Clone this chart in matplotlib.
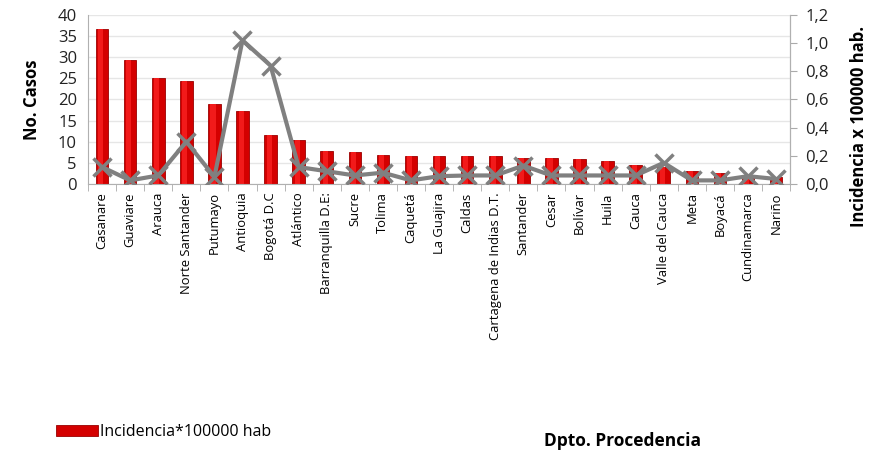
import numpy as np
import matplotlib
matplotlib.use('Agg')
import matplotlib.pyplot as plt

plt.rcParams['font.family'] = ['Open Sans', 'DejaVu Sans']

# Data
departamentos = ['Casanare', 'Guaviare', 'Arauca', 'Norte Santander', 'Putumayo',
                 'Antioquia', 'Bogotá D.C', 'Atlántico', 'Barranquilla D.E:', 'Sucre',
                 'Tolima', 'Caquetá', 'La Guajira', 'Caldas', 'Cartagena de Indias D.T.',
                 'Santander', 'Cesar', 'Bolívar', 'Huila', 'Cauca', 'Valle del Cauca',
                 'Meta', 'Boyacá', 'Cundinamarca', 'Nariño']
casos = [36.6, 29.4, 25, 24.3, 19, 17.3, 11.5, 10.3, 7.9, 7.5,
         6.9, 6.7, 6.7, 6.7, 6.6, 6.2, 6.2, 5.9, 5.5, 4.5,
         4.0, 3.1, 2.5, 2.0, 1.7]
incidencia = [0.12, 0.025, 0.06, 0.30, 0.05, 1.02, 0.84, 0.12, 0.09, 0.06,
              0.08, 0.025, 0.055, 0.06, 0.06, 0.13, 0.06, 0.06, 0.06, 0.06,
              0.15, 0.025, 0.025, 0.055, 0.035]

x = np.arange(len(departamentos))

fig = plt.figure(figsize=(8.75, 4.53), dpi=100)
ax = fig.add_axes([0.1006, 0.594, 0.8024, 0.373])

# Bars with a simple highlight to mimic the gradient
ax.bar(x, casos, width=0.45, color='#d40000', edgecolor='#9a0000', linewidth=0.6,
       zorder=2, label='Incidencia*100000 hab')
ax.bar(x - 0.05, casos, width=0.18, color='#f21a1a', linewidth=0, zorder=2.1)

ax.set_xlim(-0.5, len(departamentos) - 0.5)
ax.set_ylim(0, 40)
ax.set_yticks(range(0, 41, 5))
ax.yaxis.grid(True, color='#e6e6e6', linewidth=1, zorder=0)
ax.set_axisbelow(True)
ax.tick_params(axis='y', length=0, labelsize=12, pad=8, colors='#222222')
ax.set_ylabel('No. Casos', fontsize=12, fontweight='bold', labelpad=12)

ax.set_xticks(x)
ax.set_xticklabels(departamentos, rotation=90, fontsize=9.4)
ax.set_xticks(np.arange(-0.5, len(departamentos), 1), minor=True)
ax.tick_params(axis='x', which='major', length=0, pad=6)
ax.tick_params(axis='x', which='minor', length=5, color='#aaaaaa', direction='out')

ax.spines['top'].set_visible(False)
for side in ['left', 'bottom', 'right']:
    ax.spines[side].set_color('#b0b0b0')

ax2 = ax.twinx()
ax2.plot(x, incidencia, color='#808080', linewidth=3, marker='x', markersize=13,
         markeredgewidth=2.5, zorder=3)
ax2.set_ylim(0, 1.2)
ax2.set_yticks(np.arange(0, 1.21, 0.2))
ax2.set_yticklabels([f'{v:.1f}'.replace('.', ',') for v in np.arange(0, 1.21, 0.2)])
ax2.tick_params(axis='y', length=5, color='#aaaaaa', labelsize=12, pad=6, colors='#222222')
ax2.set_ylabel('Incidencia x 100000 hab.', fontsize=12, fontweight='bold')
ax2.yaxis.set_label_coords(1.085, 0.34)
for side in ['top', 'left', 'bottom']:
    ax2.spines[side].set_visible(False)
ax2.spines['right'].set_color('#b0b0b0')

handles, labels = ax.get_legend_handles_labels()
fig.legend(handles, labels, loc='center left', bbox_to_anchor=(0.048, 0.046),
           frameon=False, fontsize=11.5, handlelength=2.6, handletextpad=0.1,
           handleheight=0.7)

fig.text(0.622, 0.016, 'Dpto. Procedencia', fontsize=12.5, fontweight='bold')

fig.savefig('out.png', dpi=100)
